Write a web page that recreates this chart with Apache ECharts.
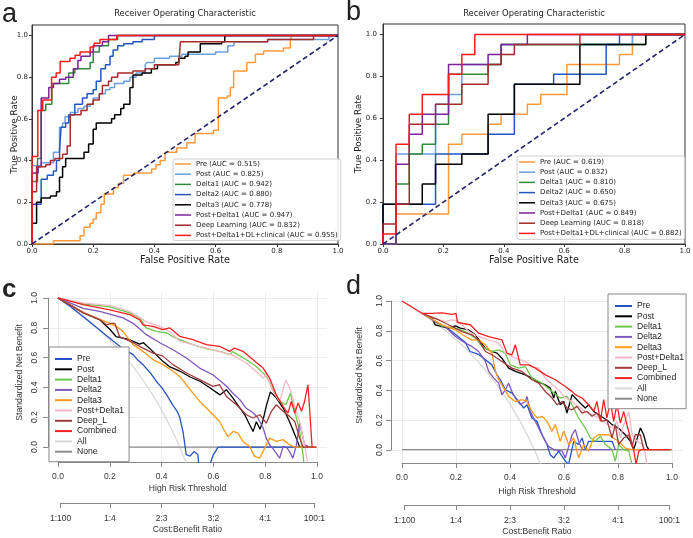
<!DOCTYPE html>
<html>
<head>
<meta charset="utf-8">
<script src="https://cdn.jsdelivr.net/npm/echarts@6/dist/echarts.min.js"></script>
<style>
  html, body { margin: 0; padding: 0; background: #fff; }
  #main { width: 693px; height: 538px; }
</style>
</head>
<body>
<div id="main"></div>
<script>
// ---- ROC data: [fpr, tpr] points, tpr jumps at fpr ----
const rocNames = ['Pre', 'Post', 'Delta1', 'Delta2', 'Delta3', 'Post+Delta1', 'Deep Learning', 'Post+Delta1+DL+clinical'];
const aucA = ['0.515', '0.825', '0.942', '0.880', '0.778', '0.947', '0.832', '0.955'];
const aucB = ['0.619', '0.832', '0.810', '0.650', '0.675', '0.849', '0.818', '0.882'];

const rocA_Pre = [[0,0],[0.07,0.015],[0.157,0.04],[0.17,0.08],[0.19,0.1],[0.2,0.12],[0.21,0.15],[0.225,0.19],[0.236,0.24],[0.266,0.27],[0.282,0.29],[0.299,0.33],[0.332,0.34],[0.391,0.36],[0.405,0.38],[0.419,0.4],[0.435,0.44],[0.473,0.46],[0.506,0.485],[0.533,0.53],[0.593,0.545],[0.609,0.7],[0.637,0.71],[0.648,0.75],[0.659,0.83],[0.702,0.87],[0.73,0.91],[0.757,0.925],[0.822,0.94],[0.844,0.98],[0.85,1],[1,1]];
const rocA_Post = [[0,0],[0,0.375],[0.03,0.39],[0.07,0.44],[0.09,0.56],[0.1,0.58],[0.108,0.61],[0.125,0.63],[0.15,0.65],[0.17,0.66],[0.19,0.67],[0.2,0.7],[0.22,0.72],[0.24,0.74],[0.255,0.75],[0.27,0.77],[0.3,0.78],[0.32,0.8],[0.34,0.82],[0.37,0.86],[0.375,0.87],[0.4,0.89],[0.45,0.9],[0.49,0.91],[0.6,0.92],[0.64,0.95],[0.66,0.97],[0.77,0.98],[0.97,1],[1,1]];
const rocA_Delta1 = [[0,0],[0,0.3],[0.018,0.41],[0.03,0.64],[0.045,0.67],[0.065,0.77],[0.12,0.82],[0.14,0.84],[0.19,0.87],[0.2,0.92],[0.22,0.95],[0.25,0.98],[0.28,1],[1,1]];
const rocA_Delta2 = [[0,0],[0,0.19],[0.03,0.31],[0.05,0.33],[0.07,0.35],[0.08,0.4],[0.09,0.45],[0.095,0.56],[0.11,0.58],[0.12,0.62],[0.14,0.67],[0.165,0.7],[0.18,0.72],[0.2,0.74],[0.21,0.78],[0.225,0.84],[0.24,0.86],[0.255,0.9],[0.265,0.93],[0.28,0.95],[0.3,0.96],[0.33,0.97],[0.36,0.98],[0.4,1],[1,1]];
const rocA_Delta3 = [[0,0],[0,0.1],[0.015,0.2],[0.03,0.22],[0.06,0.23],[0.08,0.25],[0.09,0.32],[0.1,0.37],[0.11,0.41],[0.17,0.44],[0.185,0.48],[0.2,0.55],[0.21,0.58],[0.26,0.6],[0.27,0.62],[0.29,0.65],[0.3,0.67],[0.32,0.75],[0.33,0.81],[0.36,0.82],[0.39,0.84],[0.41,0.86],[0.47,0.87],[0.48,0.89],[0.5,0.9],[0.51,0.92],[0.55,0.96],[0.62,0.97],[0.63,1],[1,1]];
const rocA_PD1 = [[0,0],[0,0.34],[0.02,0.37],[0.03,0.7],[0.055,0.75],[0.07,0.77],[0.09,0.79],[0.11,0.8],[0.135,0.84],[0.15,0.88],[0.16,0.9],[0.19,0.92],[0.2,0.95],[0.23,0.97],[0.25,1],[1,1]];
const rocA_DL = [[0,0],[0,0.25],[0.015,0.37],[0.045,0.38],[0.06,0.4],[0.075,0.41],[0.1,0.43],[0.115,0.47],[0.125,0.62],[0.16,0.64],[0.18,0.67],[0.2,0.69],[0.22,0.72],[0.23,0.76],[0.25,0.78],[0.26,0.8],[0.28,0.82],[0.33,0.83],[0.37,0.84],[0.4,0.86],[0.48,0.87],[0.485,0.97],[0.77,0.98],[0.92,1],[1,1]];
const rocA_Comb = [[0,0],[0,0.42],[0.019,0.64],[0.035,0.69],[0.064,0.8],[0.079,0.82],[0.092,0.875],[0.124,0.89],[0.141,0.905],[0.157,0.92],[0.19,0.945],[0.203,0.963],[0.222,0.98],[0.277,1],[1,1]];

const rocB_Pre = [[0,0],[0.043,0.143],[0.217,0.476],[0.261,0.524],[0.348,0.571],[0.391,0.619],[0.478,0.667],[0.522,0.714],[0.609,0.857],[0.783,0.905],[0.826,1],[1,1]];
const rocB_Post = [[0,0],[0.043,0.429],[0.174,0.667],[0.217,0.714],[0.261,0.857],[0.391,0.952],[0.826,1],[1,1]];
const rocB_Delta1 = [[0,0],[0.043,0.286],[0.087,0.429],[0.13,0.476],[0.174,0.571],[0.217,0.81],[0.348,0.857],[0.391,0.952],[0.87,1],[1,1]];
const rocB_Delta2 = [[0,0],[0,0.19],[0.174,0.429],[0.348,0.524],[0.435,0.762],[0.565,0.81],[0.739,0.952],[0.783,1],[1,1]];
const rocB_Delta3 = [[0,0],[0,0.19],[0.13,0.286],[0.174,0.381],[0.261,0.429],[0.348,0.619],[0.435,0.762],[0.652,0.952],[0.87,1],[1,1]];
const rocB_PD1 = [[0,0],[0.043,0.381],[0.087,0.524],[0.13,0.619],[0.217,0.857],[0.348,0.905],[0.391,0.952],[0.478,1],[1,1]];
const rocB_DL = [[0,0],[0,0.095],[0.043,0.19],[0.087,0.571],[0.174,0.667],[0.261,0.762],[0.348,0.857],[0.391,0.905],[0.435,0.952],[0.652,1],[1,1]];
const rocB_Comb = [[0,0],[0,0.048],[0.043,0.476],[0.087,0.619],[0.13,0.714],[0.217,0.81],[0.261,0.905],[0.304,1],[1,1]];

const rocDiag = [[0,0],[1,1]];

// ---- decision curves: [threshold, standardized net benefit] ----
const dcaNames = ['Pre', 'Post', 'Delta1', 'Delta2', 'Delta3', 'Post+Delta1', 'Deep_L', 'Combined', 'All', 'None'];

const dcaC_Pre = [[0,1],[0.05,0.94],[0.1,0.87],[0.15,0.8],[0.2,0.73],[0.25,0.66],[0.29,0.62],[0.31,0.58],[0.33,0.55],[0.36,0.49],[0.38,0.44],[0.4,0.4],[0.42,0.35],[0.444,0.28],[0.46,0.24],[0.47,0.2],[0.483,0.1],[0.495,-0.05],[0.51,-0.06],[0.525,-0.03],[0.54,-0.05],[0.55,-0.25],[0.575,-0.3],[0.59,-0.1],[0.6,-0.05],[0.618,0],[0.93,0]];
const dcaC_Post = [[0,1],[0.05,0.95],[0.1,0.9],[0.16,0.855],[0.2,0.79],[0.225,0.74],[0.277,0.72],[0.315,0.69],[0.33,0.7],[0.367,0.64],[0.405,0.575],[0.43,0.54],[0.47,0.51],[0.51,0.47],[0.55,0.44],[0.585,0.4],[0.625,0.35],[0.65,0.385],[0.675,0.33],[0.695,0.28],[0.72,0.22],[0.74,0.15],[0.753,0.105],[0.766,0.17],[0.78,0.12],[0.79,0.17],[0.805,0.28],[0.82,0.37],[0.843,0.33],[0.87,0.26],[0.894,0.17],[0.92,0.06],[0.933,0],[0.97,0]];
const dcaC_Delta1 = [[0,1],[0.1,0.96],[0.2,0.94],[0.277,0.9],[0.315,0.866],[0.34,0.8],[0.38,0.776],[0.42,0.765],[0.444,0.74],[0.47,0.72],[0.52,0.687],[0.573,0.66],[0.624,0.642],[0.663,0.62],[0.675,0.64],[0.727,0.586],[0.766,0.54],[0.805,0.474],[0.83,0.385],[0.856,0.306],[0.88,0.284],[0.897,0.36],[0.914,0.24],[0.933,0.105],[0.946,-0.05],[0.952,-0.15]];
const dcaC_Delta2 = [[0,1],[0.097,0.93],[0.161,0.91],[0.251,0.866],[0.29,0.83],[0.341,0.754],[0.393,0.7],[0.444,0.653],[0.496,0.597],[0.547,0.53],[0.598,0.485],[0.65,0.41],[0.676,0.36],[0.701,0.32],[0.727,0.26],[0.753,0.23],[0.772,0.195],[0.792,0.128],[0.804,0.06],[0.817,0.016],[0.83,-0.01],[0.856,-0.074],[0.869,0.004],[0.882,0],[0.894,-0.03],[0.907,-0.074],[0.92,0.01],[0.933,0.16],[0.94,0.17],[0.952,0.016],[0.972,0]];
const dcaC_Delta3 = [[0,1],[0.1,0.9],[0.2,0.83],[0.225,0.81],[0.251,0.776],[0.29,0.687],[0.328,0.642],[0.367,0.586],[0.405,0.553],[0.444,0.508],[0.47,0.474],[0.496,0.418],[0.521,0.362],[0.547,0.306],[0.573,0.262],[0.598,0.217],[0.624,0.172],[0.637,0.128],[0.656,0.07],[0.676,0.105],[0.695,0.094],[0.714,0.038],[0.74,0.004],[0.759,-0.063],[0.779,-0.074],[0.798,-0.007],[0.817,0.06],[0.843,0.038],[0.869,0.05],[0.894,0.016],[0.914,0],[0.991,0]];
const dcaC_PD1 = [[0,1],[0.1,0.965],[0.2,0.95],[0.277,0.91],[0.341,0.84],[0.393,0.81],[0.431,0.776],[0.47,0.71],[0.521,0.687],[0.573,0.664],[0.624,0.64],[0.676,0.615],[0.727,0.564],[0.779,0.485],[0.792,0.463],[0.804,0.49],[0.83,0.374],[0.856,0.306],[0.879,0.45],[0.894,0.4],[0.914,0.28],[0.933,0.17],[0.952,0.016],[0.965,-0.12]];
const dcaC_DL = [[0,1],[0.097,0.9],[0.161,0.855],[0.187,0.82],[0.206,0.83],[0.219,0.83],[0.238,0.74],[0.29,0.7],[0.328,0.664],[0.367,0.63],[0.405,0.61],[0.444,0.553],[0.496,0.497],[0.547,0.452],[0.598,0.407],[0.624,0.418],[0.65,0.34],[0.689,0.284],[0.727,0.217],[0.753,0.195],[0.779,0.217],[0.804,0.16],[0.824,0.24],[0.843,0.284],[0.869,0.24],[0.894,0.206],[0.914,0.172],[0.933,0.06],[0.946,0],[0.985,0]];
const dcaC_Comb = [[0,1],[0.097,0.955],[0.2,0.92],[0.277,0.888],[0.315,0.855],[0.328,0.82],[0.367,0.81],[0.405,0.787],[0.431,0.8],[0.47,0.743],[0.521,0.72],[0.573,0.687],[0.624,0.676],[0.663,0.642],[0.682,0.664],[0.714,0.642],[0.753,0.586],[0.792,0.53],[0.817,0.463],[0.843,0.35],[0.869,0.273],[0.888,0.228],[0.901,0.306],[0.914,0.228],[0.927,0.296],[0.94,0.24],[0.952,0.306],[0.965,0.418],[0.972,0.24],[0.981,0],[0.997,0]];
const dcaC_All = [[0,1],[0.05,0.941],[0.1,0.875],[0.15,0.801],[0.2,0.718],[0.25,0.624],[0.3,0.517],[0.35,0.393],[0.4,0.248],[0.45,0.077],[0.47,0],[0.49,-0.084],[0.5,-0.128]];
const dcaC_None = [[0,0],[1,0]];

const dcaD_Pre = [[0.074,0.917],[0.136,0.85],[0.185,0.794],[0.235,0.72],[0.252,0.66],[0.284,0.64],[0.309,0.604],[0.333,0.57],[0.352,0.503],[0.364,0.47],[0.383,0.403],[0.407,0.38],[0.432,0.324],[0.451,0.28],[0.463,0.302],[0.481,0.213],[0.5,0.19],[0.519,0.1],[0.537,0.034],[0.549,-0.034],[0.562,-0.056],[0.58,-0.01],[0.605,-0.078],[0.617,-0.1],[0.636,0.056],[0.654,0.034],[0.667,0.078],[0.679,0],[0.691,0.056],[0.778,0.056],[0.79,0]];
const dcaD_Post = [[0.074,0.917],[0.111,0.884],[0.123,0.839],[0.148,0.828],[0.173,0.817],[0.198,0.832],[0.216,0.817],[0.247,0.805],[0.272,0.772],[0.29,0.727],[0.309,0.682],[0.333,0.66],[0.352,0.649],[0.37,0.615],[0.395,0.548],[0.42,0.526],[0.457,0.503],[0.481,0.481],[0.5,0.459],[0.506,0.47],[0.531,0.436],[0.549,0.414],[0.562,0.347],[0.568,0.392],[0.586,0.302],[0.599,0.324],[0.611,0.246],[0.63,0.37],[0.654,0.324],[0.679,0.28],[0.691,0.302],[0.71,0.257],[0.728,0.235],[0.747,0.213],[0.765,0.19],[0.778,0.168],[0.802,0.145],[0.827,0.1],[0.846,0.056],[0.858,0],[0.883,0.145],[0.895,0.1],[0.907,0.02],[0.914,0]];
const dcaD_Delta1 = [[0.074,0.917],[0.111,0.875],[0.148,0.83],[0.198,0.817],[0.235,0.794],[0.272,0.75],[0.296,0.694],[0.333,0.66],[0.358,0.671],[0.383,0.649],[0.401,0.57],[0.432,0.548],[0.457,0.559],[0.481,0.481],[0.519,0.447],[0.556,0.391],[0.586,0.347],[0.611,0.358],[0.63,0.302],[0.654,0.213],[0.679,0.145],[0.698,0.078],[0.716,0.056],[0.735,0.09],[0.753,0.034],[0.778,0],[0.79,-0.078],[0.802,0.034],[0.821,0],[0.84,-0.01],[0.852,-0.1]];
const dcaD_Delta2 = [[0.074,0.917],[0.123,0.861],[0.16,0.828],[0.198,0.761],[0.235,0.716],[0.259,0.694],[0.284,0.66],[0.309,0.593],[0.321,0.526],[0.34,0.481],[0.358,0.447],[0.37,0.369],[0.383,0.403],[0.395,0.447],[0.407,0.391],[0.42,0.347],[0.438,0.302],[0.457,0.324],[0.463,0.358],[0.475,0.257],[0.494,0.19],[0.512,0.123],[0.531,0.056],[0.543,0.022],[0.562,0],[0.593,-0.01],[0.605,-0.056],[0.63,0.1],[0.642,0.134],[0.654,0.056],[0.667,0],[0.778,0]];
const dcaD_Delta3 = [[0.074,0.917],[0.148,0.839],[0.198,0.805],[0.235,0.761],[0.259,0.738],[0.284,0.738],[0.309,0.705],[0.333,0.649],[0.346,0.526],[0.358,0.47],[0.377,0.414],[0.395,0.358],[0.42,0.324],[0.444,0.336],[0.463,0.324],[0.481,0.257],[0.5,0.213],[0.519,0.224],[0.537,0.19],[0.556,0.123],[0.568,0.168],[0.586,0.056],[0.599,0.123],[0.617,0.034],[0.636,0.078],[0.654,-0.056],[0.673,0.034],[0.691,-0.01],[0.71,0.078],[0.728,0.1],[0.765,0.1],[0.802,0.056],[0.827,0.01],[0.852,0],[0.926,0]];
const dcaD_PD1 = [[0.074,0.917],[0.123,0.884],[0.16,0.861],[0.185,0.872],[0.205,0.87],[0.247,0.794],[0.284,0.761],[0.321,0.738],[0.358,0.716],[0.383,0.649],[0.42,0.615],[0.457,0.593],[0.481,0.559],[0.506,0.548],[0.531,0.481],[0.556,0.436],[0.58,0.403],[0.605,0.347],[0.63,0.324],[0.654,0.291],[0.679,0.257],[0.704,0.235],[0.728,0.213],[0.753,0.179],[0.778,0.145],[0.796,0.19],[0.809,0.078],[0.821,0.168],[0.84,0.257],[0.852,0.1],[0.87,0.056],[0.895,0.034],[0.907,-0.1]];
const dcaD_DL = [[0.074,0.917],[0.136,0.872],[0.185,0.828],[0.222,0.794],[0.259,0.772],[0.284,0.738],[0.309,0.66],[0.333,0.638],[0.37,0.593],[0.407,0.548],[0.444,0.526],[0.481,0.47],[0.506,0.447],[0.531,0.391],[0.556,0.347],[0.574,0.302],[0.593,0.324],[0.611,0.28],[0.63,0.268],[0.648,0.291],[0.667,0.246],[0.685,0.257],[0.704,0.224],[0.722,0.246],[0.741,0.19],[0.759,0.2],[0.778,0.078],[0.79,0.168],[0.802,0.034],[0.821,0.078],[0.84,0.1],[0.852,0.02],[0.864,0.1],[0.883,0.1],[0.895,0],[0.994,0]];
const dcaD_Comb = [[0,1],[0.074,0.917],[0.111,0.917],[0.148,0.92],[0.185,0.91],[0.2,0.917],[0.205,0.855],[0.253,0.84],[0.284,0.783],[0.321,0.76],[0.37,0.738],[0.389,0.649],[0.407,0.638],[0.42,0.705],[0.438,0.57],[0.469,0.57],[0.494,0.548],[0.531,0.503],[0.568,0.47],[0.605,0.425],[0.63,0.39],[0.642,0.37],[0.667,0.347],[0.691,0.302],[0.71,0.257],[0.722,0.324],[0.735,0.19],[0.747,0.336],[0.759,0.213],[0.772,0.324],[0.784,0.19],[0.796,0.302],[0.809,0.179],[0.821,0.257],[0.833,0.168],[0.846,0.078],[0.858,0],[0.867,-0.1],[0.877,-0.01],[0.889,0],[0.994,0]];
const dcaD_All = [[0,1],[0.05,0.945],[0.1,0.884],[0.15,0.816],[0.2,0.74],[0.25,0.653],[0.3,0.554],[0.35,0.44],[0.4,0.306],[0.45,0.148],[0.49,0],[0.5,-0.041],[0.52,-0.128]];
const dcaD_None = [[0,0],[1,0]];

const costTicks = [0.01, 0.2, 0.4, 0.6, 0.8, 0.99];
const costLabels = ['1:100', '1:4', '2:3', '3:2', '4:1', '100:1'];
const unitTicks = [0, 0.2, 0.4, 0.6, 0.8, 1.0];

// ---- styles ----
const rocColors = ['#ff9a3c', '#6a9fe0', '#2f8a3a', '#2556c0', '#000000', '#7a239a', '#a52a2a', '#ff1a1a'];
const dcaColors = ['#2554c7', '#000000', '#6cc84c', '#7e57c2', '#ff9a1a', '#f7b9c8', '#a03c3c', '#f02222', '#d9d9d9', '#8c8c8c'];
const MPL = 'DejaVu Sans';
const RF = 'Liberation Sans';

const rocCurvesA = [rocA_Pre, rocA_Post, rocA_Delta1, rocA_Delta2, rocA_Delta3, rocA_PD1, rocA_DL, rocA_Comb];
const rocCurvesB = [rocB_Pre, rocB_Post, rocB_Delta1, rocB_Delta2, rocB_Delta3, rocB_PD1, rocB_DL, rocB_Comb];
const dcaCurvesC = [dcaC_Pre, dcaC_Post, dcaC_Delta1, dcaC_Delta2, dcaC_Delta3, dcaC_PD1, dcaC_DL, dcaC_Comb, dcaC_All, dcaC_None];
const dcaCurvesD = [dcaD_Pre, dcaD_Post, dcaD_Delta1, dcaD_Delta2, dcaD_Delta3, dcaD_PD1, dcaD_DL, dcaD_Comb, dcaD_All, dcaD_None];

const chart = echarts.init(document.getElementById('main'));

function fmt1(v) { return v.toFixed(1); }

// matplotlib-like ROC axes
function rocX(gi, margin) {
  return {
    gridIndex: gi, type: 'value', min: 0, max: 1, interval: 0.2,
    name: 'False Positive Rate', nameLocation: 'middle', nameGap: 11,
    nameTextStyle: { fontFamily: MPL, fontSize: 9.7, color: '#222' },
    axisLine: { show: true, onZero: false, lineStyle: { color: '#333', width: 1 } },
    axisTick: { show: true, length: 3, lineStyle: { color: '#333' } },
    axisLabel: { fontFamily: MPL, fontSize: 7, color: '#222', margin: margin, formatter: fmt1 },
    splitLine: { show: false }
  };
}
function rocY(gi, margin, nameGap) {
  return {
    gridIndex: gi, type: 'value', min: 0, max: 1.05, interval: 0.2,
    name: 'True Positive Rate', nameLocation: 'middle', nameGap: nameGap, nameMoveOverlap: false,
    nameTextStyle: { fontFamily: MPL, fontSize: 8.8, color: '#222' },
    axisLine: { show: true, onZero: false, lineStyle: { color: '#333', width: 1 } },
    axisTick: { show: true, length: 3, customValues: unitTicks, lineStyle: { color: '#333' } },
    axisLabel: { fontFamily: MPL, fontSize: 7, color: '#222', margin: margin, customValues: unitTicks, formatter: fmt1 },
    splitLine: { show: false }
  };
}
// R-like decision curve axes
function dcaX(gi, nameGap) {
  return {
    gridIndex: gi, type: 'value', min: 0, max: 1, interval: 0.2,
    name: 'High Risk Threshold', nameLocation: 'middle', nameGap: nameGap,
    nameTextStyle: { fontFamily: RF, fontSize: 8.6, color: '#333' },
    axisLine: { show: true, onZero: false, lineStyle: { color: '#888', width: 1 } },
    axisTick: { show: true, length: 5, lineStyle: { color: '#888' } },
    axisLabel: { fontFamily: RF, fontSize: 8.5, color: '#333', margin: 10, formatter: fmt1 },
    splitLine: { show: true, lineStyle: { color: '#ececec', width: 1 } }
  };
}
function dcaY(gi, margin, nameGap) {
  return {
    gridIndex: gi, type: 'value', min: 0, max: 1, interval: 0.2,
    name: 'Standardized Net Benefit', nameLocation: 'middle', nameGap: nameGap,
    nameTextStyle: { fontFamily: RF, fontSize: 8.7, color: '#333' },
    axisLine: { show: true, onZero: false, lineStyle: { color: '#888', width: 1 } },
    axisTick: { show: true, length: 5, lineStyle: { color: '#888' } },
    axisLabel: { fontFamily: RF, fontSize: 8.5, color: '#333', margin: margin, rotate: 90, formatter: fmt1 },
    splitLine: { show: true, lineStyle: { color: '#ececec', width: 1 } }
  };
}
function costX(gi) {
  return {
    gridIndex: gi, type: 'value', min: 0.01, max: 0.99,
    name: 'Cost:Benefit Ratio', nameLocation: 'middle', nameGap: 22,
    nameTextStyle: { fontFamily: RF, fontSize: 8.6, color: '#333' },
    axisLine: { show: true, onZero: false, lineStyle: { color: '#888', width: 1 } },
    axisTick: { show: true, length: 5, customValues: costTicks, lineStyle: { color: '#888' } },
    axisLabel: {
      fontFamily: RF, fontSize: 8.5, color: '#333', margin: 11, customValues: costTicks,
      formatter: function (v) {
        let best = 0;
        costTicks.forEach(function (t, i) { if (Math.abs(t - v) < Math.abs(costTicks[best] - v)) best = i; });
        return costLabels[best];
      }
    },
    splitLine: { show: false }
  };
}
function hidden(gi, min, max) {
  return { gridIndex: gi, type: 'value', show: false, min: min, max: max };
}

const series = [];
rocCurvesA.forEach(function (d, i) {
  series.push({ type: 'line', name: rocNames[i] + ' (AUC = ' + aucA[i] + ')', data: d, step: 'end', symbol: 'none',
    xAxisIndex: 0, yAxisIndex: 0, lineStyle: { color: rocColors[i], width: 1.5 }, itemStyle: { color: rocColors[i] } });
});
series.push({ type: 'line', data: rocDiag, symbol: 'none', xAxisIndex: 0, yAxisIndex: 0,
  lineStyle: { color: '#22226e', width: 1.6, type: [5, 3] } });
rocCurvesB.forEach(function (d, i) {
  series.push({ type: 'line', name: rocNames[i] + ' (AUC = ' + aucB[i] + ')', data: d, step: 'end', symbol: 'none',
    xAxisIndex: 1, yAxisIndex: 1, lineStyle: { color: rocColors[i], width: 1.5 }, itemStyle: { color: rocColors[i] } });
});
series.push({ type: 'line', data: rocDiag, symbol: 'none', xAxisIndex: 1, yAxisIndex: 1,
  lineStyle: { color: '#22226e', width: 1.6, type: [5, 3] } });

// decision curves: reference lines first, models on top
[[dcaCurvesC, 2], [dcaCurvesD, 5]].forEach(function (p) {
  const curves = p[0], ax = p[1];
  [8, 9, 0, 1, 2, 3, 4, 5, 6, 7].forEach(function (i) {
    series.push({ type: 'line', name: dcaNames[i], data: curves[i], symbol: 'none', smooth: i === 8,
      xAxisIndex: ax, yAxisIndex: ax, clip: true,
      lineStyle: { color: dcaColors[i], width: 1.3 }, itemStyle: { color: dcaColors[i] } });
  });
});

function rocLegend(left, top, auc, pad) {
  return {
    orient: 'vertical', left: left, top: top, selectedMode: false,
    data: rocNames.map(function (n, i) { return n + ' (AUC = ' + auc[i] + ')'; }),
    icon: 'rect', itemWidth: 16, itemHeight: 1.5, itemGap: 2.2, padding: pad,
    textStyle: { fontFamily: MPL, fontSize: 7, color: '#222', lineHeight: 8 },
    backgroundColor: 'rgba(255,255,255,0.85)', borderColor: '#d0d0d0', borderWidth: 1, borderRadius: 2
  };
}
function dcaLegend(left, top, pad) {
  return {
    orient: 'vertical', left: left, top: top, selectedMode: false, data: dcaNames,
    icon: 'rect', itemWidth: 17, itemHeight: 2, itemGap: 0.3, padding: pad,
    textStyle: { fontFamily: RF, fontSize: 8.6, color: '#222', lineHeight: 10 },
    backgroundColor: '#fff', borderColor: '#888', borderWidth: 1, borderRadius: 0
  };
}

function txt(x, y, s, font, align) {
  return { type: 'text', x: x, y: y, z: 10,
    style: { text: s, font: font, fill: '#222', textAlign: align || 'left', align: align || 'left',
      textVerticalAlign: 'middle', verticalAlign: 'middle' } };
}

const gridBase = { show: false, containLabel: false, outerBoundsMode: 'none' };

chart.setOption({
  animation: false,
  backgroundColor: '#fff',
  grid: [
    Object.assign({}, gridBase, { left: 32, top: 25, width: 306, height: 219, show: true, borderColor: '#333', borderWidth: 1 }),
    Object.assign({}, gridBase, { left: 383, top: 24, width: 302, height: 220, show: true, borderColor: '#333', borderWidth: 1 }),
    Object.assign({}, gridBase, { left: 58, top: 292, width: 259, height: 170 }),
    Object.assign({}, gridBase, { left: 48, top: 298, width: 279, height: 149 }),
    Object.assign({}, gridBase, { left: 60.6, top: 470, width: 253.8, height: 33 }),
    Object.assign({}, gridBase, { left: 402, top: 295, width: 270, height: 168 }),
    Object.assign({}, gridBase, { left: 391, top: 301, width: 292, height: 149 }),
    Object.assign({}, gridBase, { left: 404.7, top: 472, width: 264.6, height: 33 })
  ],
  xAxis: [
    rocX(0, 4), rocX(1, 4),
    dcaX(2, 22), hidden(3, 0, 1), costX(4),
    dcaX(5, 24), hidden(6, 0, 1), costX(7)
  ],
  yAxis: [
    rocY(0, 4, 13), rocY(1, 6, 20),
    hidden(2, -0.1, 1.04), dcaY(3, 9, 24), hidden(4, 0, 1),
    hidden(5, -0.09, 1.04), dcaY(6, 7, 27), hidden(7, 0, 1)
  ],
  legend: [
    rocLegend(173, 159, aucA, [1, 3, 1, 2]),
    rocLegend(517, 156, aucB, [2, 3, 2, 2]),
    dcaLegend(49, 347, [7, 5, 5, 6]),
    dcaLegend(608, 294, [7, 2, 5, 7])
  ],
  graphic: [
    txt(2, 15, 'a', '27px "Liberation Sans"'),
    txt(346, 13, 'b', '27px "Liberation Sans"'),
    txt(2, 290, 'c', 'bold 26px "Liberation Sans"'),
    txt(346, 287, 'd', '27px "Liberation Sans"'),
    txt(185, 14, 'Receiver Operating Characteristic', '8.4px "DejaVu Sans"', 'center'),
    txt(534, 14, 'Receiver Operating Characteristic', '8.4px "DejaVu Sans"', 'center')
  ],
  series: series
});
</script>
</body>
</html>
